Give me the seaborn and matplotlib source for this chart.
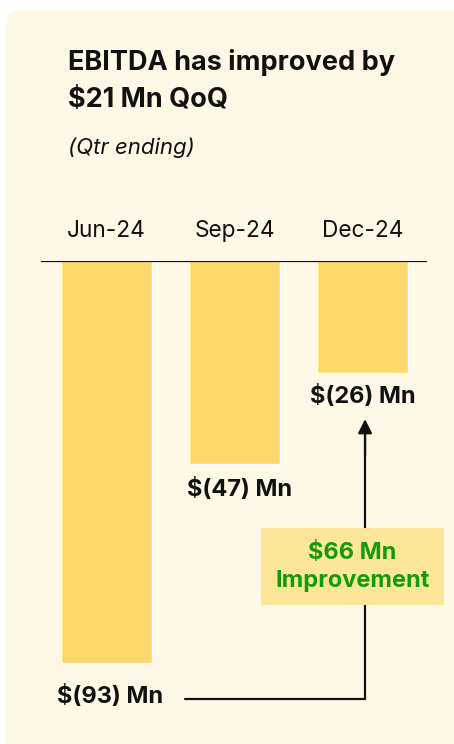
import matplotlib
matplotlib.use("Agg")
import matplotlib.pyplot as plt
import numpy as np
import pandas as pd
import seaborn as sns
from matplotlib.patches import FancyBboxPatch, Rectangle

# data
QUARTERS = ["Jun-24", "Sep-24", "Dec-24"]
EBITDA = [-93, -47, -26]
VALUE_LABELS = ["$(93) Mn", "$(47) Mn", "$(26) Mn"]
TITLE = "EBITDA has improved by\n$21 Mn QoQ"
SUBTITLE = "(Qtr ending)"
IMPROVEMENT_LABEL = "$66 Mn\nImprovement"

BG = "#FFF8E6"
BAR = "#FDD86B"
BOX = "#FDE69A"
GREEN = "#149A0E"
INK = "#111111"

W, H = 454, 744


def px_axes(fig, left, top, right, bottom):
    return fig.add_axes([left / W, 1 - bottom / H, (right - left) / W, (bottom - top) / H])


def main() -> None:
    sns.set_theme(style="white")
    plt.rcParams["font.family"] = ["Inter", "DejaVu Sans"]

    fig = plt.figure(figsize=(W / 100, H / 100), dpi=100, facecolor="white")

    # cream card behind everything
    card = FancyBboxPatch(
        (0.05, -0.3), 4.8, 7.34 + 0.3,
        boxstyle="round,pad=0,rounding_size=0.16",
        transform=fig.dpi_scale_trans, facecolor=BG, edgecolor="none", zorder=-5,
    )
    fig.patches.append(card)

    fig.text(68 / W, 1 - 62 / H, TITLE.split("\n")[0], ha="left", va="center",
             fontsize=19.5, fontweight="bold", color=INK)
    fig.text(68 / W, 1 - 100 / H, TITLE.split("\n")[1], ha="left", va="center",
             fontsize=19.5, fontweight="bold", color=INK)
    fig.text(68 / W, 1 - 148 / H, SUBTITLE, ha="left", va="center", fontsize=16,
             style="italic", color=INK)

    ax = px_axes(fig, 41, 261, 427, 720)
    ax.set_facecolor("none")
    df = pd.DataFrame({"quarter": QUARTERS, "ebitda": EBITDA})
    sns.barplot(data=df, x="quarter", y="ebitda", color=BAR, saturation=1,
                width=0.71, ax=ax, zorder=2)
    ax.set_xlim(-0.512, 2.504)
    ax.set_ylim(-106.25, 0)
    ax.axhline(0, color=INK, lw=1.6, zorder=3)

    ax.xaxis.tick_top()
    ax.tick_params(axis="x", length=0, pad=14, labelsize=16.3, colors=INK)
    ax.set_yticks([])
    ax.set_xlabel("")
    ax.set_ylabel("")
    for s in ax.spines.values():
        s.set_visible(False)

    offsets = [7.7, 5.8, 5.3]
    for i, (v, lab) in enumerate(zip(EBITDA, VALUE_LABELS)):
        ax.text(i + (0.03 if i == 0 else 0.04 if i == 1 else 0.0), v - offsets[i], lab,
                ha="center", va="center", fontsize=17, fontweight="bold",
                color=INK, clip_on=False)

    # improvement connector: from Jun label to Dec label
    y_line = -101.4
    x_start, x_turn = 0.613, 2.02
    ax.plot([x_start, x_turn, x_turn], [y_line, y_line, -40], color=INK, lw=1.6,
            clip_on=False, zorder=3, solid_joinstyle="miter")
    ax.annotate("", xy=(x_turn, EBITDA[2] - 10.6), xytext=(x_turn, -45),
                arrowprops=dict(arrowstyle="-|>,head_length=0.7,head_width=0.35",
                                color=INK, lw=1.6, shrinkA=0, shrinkB=0),
                annotation_clip=False, zorder=3)

    ax.add_patch(Rectangle((1.207, -79.6), 1.43, 17.8, facecolor=BOX,
                           edgecolor="none", clip_on=False, zorder=4))
    ax.text(1.92, -70.8, IMPROVEMENT_LABEL, ha="center", va="center",
            fontsize=17, fontweight="bold", color=GREEN, linespacing=1.32,
            clip_on=False, zorder=5)

    fig.savefig("out.png", dpi=100, facecolor="white")
    plt.close(fig)


if __name__ == "__main__":
    main()
